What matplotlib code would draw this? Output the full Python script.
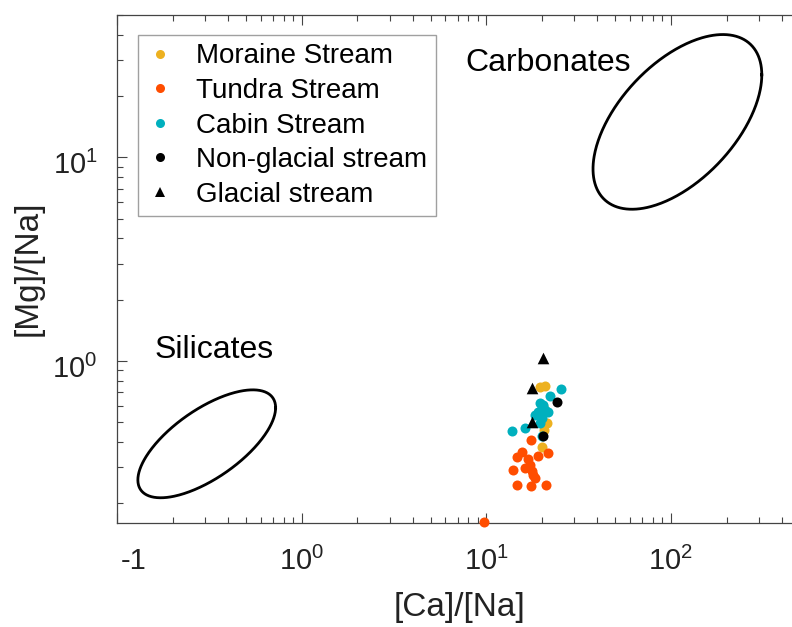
import numpy as np
import matplotlib
matplotlib.use("Agg")
import matplotlib.pyplot as plt
from matplotlib.lines import Line2D
import matplotlib.transforms as mtransforms

plt.rcParams['font.family'] = ['Liberation Sans', 'DejaVu Sans']
plt.rcParams['mathtext.fontset'] = 'custom'
plt.rcParams['mathtext.rm'] = 'Liberation Sans'
plt.rcParams['mathtext.it'] = 'Liberation Sans'

# ---------------- data ----------------
moraine_ca = [19.6, 20.8, 21.3, 20.6, 20.0, 19.4, 20.2]
moraine_mg = [0.748, 0.750, 0.495, 0.46, 0.38, 0.55, 0.60]

tundra_ca = [17.5, 21.7, 19.0, 15.6, 14.7, 13.9, 16.25, 17.3, 17.7, 18.4,
             14.7, 17.4, 21.0, 18.0, 16.8, 9.76]
tundra_mg = [0.41, 0.355, 0.343, 0.359, 0.336, 0.292, 0.298, 0.309, 0.287, 0.266,
             0.245, 0.242, 0.247, 0.276, 0.33, 0.1625]

cabin_ca = [25.4, 22.2, 19.6, 20.0, 20.8, 19.1, 18.4, 20.0, 19.6, 16.25, 13.85,
            20.0, 21.7, 20.4]
cabin_mg = [0.73, 0.674, 0.62, 0.586, 0.575, 0.564, 0.544, 0.524, 0.495, 0.468, 0.455,
            0.426, 0.564, 0.609]

nonglacial_ca = [24.1, 20.4]
nonglacial_mg = [0.627, 0.43]

glacial_ca = [20.3, 17.66, 17.66]
glacial_mg = [1.03, 0.735, 0.504]

# region ellipses (log10 space): centre x, centre y, half-width, half-height, phase (deg)
carb_ellipse = (2.035, 1.174, 0.457, 0.429, 57.4)
sil_ellipse = (-0.514, -0.407, 0.373, 0.265, 48.0)

xticks = [0.1, 1, 10, 100]
xticklabels = ['-1', '$10^0$', '$10^1$', '$10^2$']
yticks = [1, 10]
yticklabels = ['$10^0$', '$10^1$']

c_moraine = '#EDB120'
c_tundra = '#FF4D00'
c_cabin = '#00B0BE'

W, H = 792, 627
fig = plt.figure(figsize=(W / 100, H / 100), dpi=100)
ax = fig.add_axes([117 / W, (H - 523) / H, (800 - 117) / W, (523 - 15) / H])
ax.set_xscale('log')
ax.set_yscale('log')
ax.set_xlim(0.1, 500)
ax.set_ylim(0.16, 50)


def ellipse(p):
    cx, cy, axx, ayy, ph = p
    t = np.linspace(0, 2 * np.pi, 400)
    lx = cx + axx * np.cos(t)
    ly = cy + ayy * np.cos(t - np.deg2rad(ph))
    return 10 ** lx, 10 ** ly


for p in (carb_ellipse, sil_ellipse):
    ex, ey = ellipse(p)
    ax.plot(ex, ey, color='black', lw=2.0)

ms = 52
ax.scatter(moraine_ca, moraine_mg, s=ms, color=c_moraine, linewidths=0, zorder=3, clip_on=False)
ax.scatter(tundra_ca, tundra_mg, s=ms, color=c_tundra, linewidths=0, zorder=3, clip_on=False)
ax.scatter(cabin_ca, cabin_mg, s=ms, color=c_cabin, linewidths=0, zorder=4, clip_on=False)
ax.scatter(nonglacial_ca, nonglacial_mg, s=ms, color='black', linewidths=0, zorder=5)
ax.scatter(glacial_ca, glacial_mg, s=70, color='black', marker='^', linewidths=0, zorder=5)

ax.text(21.6, 29.2, 'Carbonates', fontsize=23, ha='center', va='center')
ax.text(0.334, 1.13, 'Silicates', fontsize=23, ha='center', va='center')

# axes styling (MATLAB-like)
axcol = '#444444'
for side in ['top', 'bottom', 'left']:
    ax.spines[side].set_color(axcol)
    ax.spines[side].set_linewidth(0.9)
ax.spines['right'].set_visible(False)
ax.tick_params(which='both', direction='in', top=True, right=False, colors=axcol,
               labelcolor='#222222', width=0.8)
ax.tick_params(which='major', length=7, labelsize=21)
ax.tick_params(which='minor', length=4)
ax.tick_params(axis='x', which='major', pad=17)
ax.tick_params(axis='y', which='major', pad=14)
ax.set_xticks(xticks)
ax.set_xticklabels(xticklabels)
ax.set_yticks(yticks)
ax.set_yticklabels(yticklabels)
lab0 = ax.get_xticklabels()[0]
lab0.set_ha('left')
lab0.set_transform(lab0.get_transform() + mtransforms.ScaledTranslation(4 / 100, 0, fig.dpi_scale_trans))
for lab in ax.get_yticklabels():
    lab.set_transform(lab.get_transform() + mtransforms.ScaledTranslation(0, -5 / 100, fig.dpi_scale_trans))

ax.set_xlabel('[Ca]/[Na]', fontsize=24, color='#222222')
ax.xaxis.set_label_coords((460 - 117) / (800 - 117), -(592 - 523) / 508)
ax.set_ylabel('[Mg]/[Na]', fontsize=24, color='#222222')
ax.yaxis.set_label_coords(-(117 - 44) / (800 - 117), (523 - 268.5) / 508)

handles = [
    Line2D([], [], ls='none', marker='o', color=c_moraine, markersize=6.5, markeredgewidth=0),
    Line2D([], [], ls='none', marker='o', color=c_tundra, markersize=6.5, markeredgewidth=0),
    Line2D([], [], ls='none', marker='o', color=c_cabin, markersize=6.5, markeredgewidth=0),
    Line2D([], [], ls='none', marker='o', color='black', markersize=6.5, markeredgewidth=0),
    Line2D([], [], ls='none', marker='^', color='black', markersize=7, markeredgewidth=0),
]
labels = ['Moraine Stream', 'Tundra Stream', 'Cabin Stream', 'Non-glacial stream', 'Glacial stream']
leg = ax.legend(handles, labels, loc='upper left',
                bbox_to_anchor=((138 - 117) / 683, (523 - 35) / 508),
                borderaxespad=0, fontsize=20, frameon=True, fancybox=False,
                handlelength=1.0, handletextpad=0.8, labelspacing=0.31,
                borderpad=0.3)
leg.get_frame().set_edgecolor('#888888')
leg.get_frame().set_linewidth(1.0)

fig.savefig('out.png', dpi=100)
